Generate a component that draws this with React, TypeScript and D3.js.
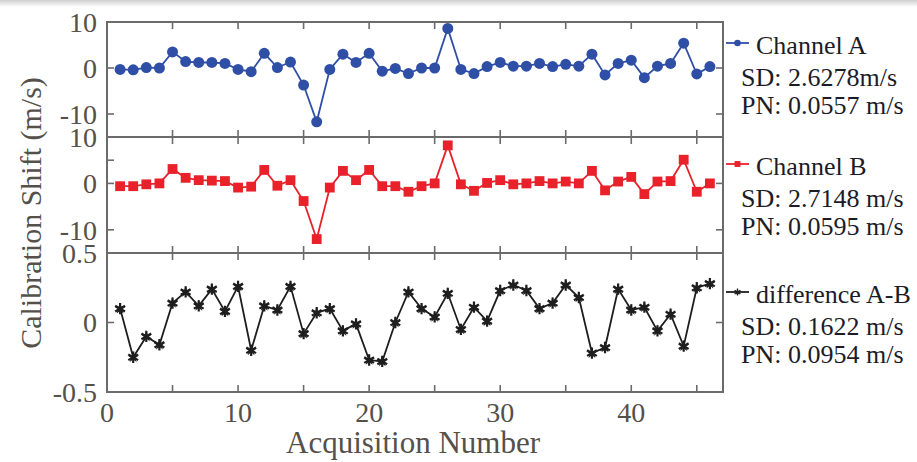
import React from "react";
import * as d3 from "d3";

const acq = d3.range(1, 47);
const channelA = [-0.3, -0.4, 0.1, 0, 3.5, 1.4, 1.2, 1.2, 1.0, -0.3, -0.8, 3.2, 0.1, 1.3, -3.7, -11.7, -0.3, 3.0, 1.2, 3.2, -0.7, -0.1, -1.2, 0, 0, 8.6, -0.3, -1.2, 0.3, 1.2, 0.4, 0.4, 1.0, 0.3, 0.8, 0.4, 3.0, -1.5, 1.0, 1.7, -2.1, 0.4, 1.0, 5.4, -1.3, 0.3];
const channelB = [-0.6, -0.6, -0.2, 0, 3.1, 1.2, 0.7, 0.6, 0.5, -0.9, -0.7, 2.9, -0.5, 0.7, -3.8, -12.0, -0.9, 2.7, 0.7, 2.9, -0.6, -0.6, -1.8, -0.6, 0, 8.2, -0.2, -1.6, 0.1, 0.7, -0.2, 0, 0.5, 0, 0.4, 0, 2.7, -1.5, 0.4, 1.4, -2.3, 0.4, 0.5, 5.1, -1.8, 0];
const diffAB = [0.10, -0.25, -0.10, -0.16, 0.14, 0.22, 0.12, 0.24, 0.08, 0.26, -0.20, 0.12, 0.09, 0.26, -0.08, 0.07, 0.10, -0.06, -0.01, -0.27, -0.28, 0.0, 0.22, 0.10, 0.04, 0.21, -0.05, 0.11, 0.01, 0.23, 0.27, 0.23, 0.10, 0.14, 0.27, 0.18, -0.22, -0.18, 0.24, 0.09, 0.11, -0.06, 0.06, -0.17, 0.25, 0.28];

const xTickValues = [5, 10, 15, 20, 25, 30, 35, 40, 45];
const xTickLabels = ["0", "10", "20", "30", "40"];
const chTickLabels = ["10", "0", "-10"];
const diffTickLabels = ["0.5", "0", "-0.5"];
const legendA = ["Channel A", "SD: 2.6278m/s", "PN: 0.0557 m/s"];
const legendB = ["Channel B", "SD: 2.7148 m/s", "PN: 0.0595 m/s"];
const legendD = ["difference A-B", "SD: 0.1622 m/s", "PN: 0.0954 m/s"];

const W = 917, H = 462;
const L = 107, R = 723;
const frameColor = "#6b6b6b";
const labelColor = "#55504a";
const textColor = "#1c1c28";

const x = d3.scaleLinear().domain([0, 47]).range([L, R]);

type Panel = {
  data: number[];
  domain: [number, number];
  top: number;
  bottom: number;
  color: string;
  marker: "circle" | "square" | "star";
  leftTicks: number[];
  rightTicks: number[];
  labelVals: number[];
  labels: string[];
  legend: string[];
  legendY: number;
};

const panels: Panel[] = [
  { data: channelA, domain: [-15, 10], top: 22, bottom: 137, color: "#2f4fa6", marker: "circle", leftTicks: [0, -10], rightTicks: [0, -10], labelVals: [10, 0, -10], labels: chTickLabels, legend: legendA, legendY: 43 },
  { data: channelB, domain: [-15, 10], top: 137, bottom: 253, color: "#e8212b", marker: "square", leftTicks: [5, 0, -10], rightTicks: [0, -10], labelVals: [10, 0, -10], labels: chTickLabels, legend: legendB, legendY: 164 },
  { data: diffAB, domain: [-0.5, 0.5], top: 253, bottom: 392, color: "#1e1e1e", marker: "star", leftTicks: [0], rightTicks: [0], labelVals: [0.5, 0, -0.5], labels: diffTickLabels, legend: legendD, legendY: 292 },
];

function Marker({ kind, cx, cy, color, s }: { kind: string; cx: number; cy: number; color: string; s: number }) {
  if (kind === "circle") return <circle cx={cx} cy={cy} r={5.5 * s} fill={color} />;
  if (kind === "square") return <rect x={cx - 4.9 * s} y={cy - 4.9 * s} width={9.8 * s} height={9.8 * s} fill={color} />;
  const p = d3.symbol().type(d3.symbolAsterisk).size(90 * s * s)();
  const q = d3.symbol().type(d3.symbolStar).size(40 * s * s)();
  return (
    <g transform={`translate(${cx},${cy})`}>
      <path d={p || ""} stroke={color} strokeWidth={2.2 * s} fill="none" />
      <path d={q || ""} fill={color} />
    </g>
  );
}

function T(props: any) {
  const { children, ...rest } = props;
  return (
    <text {...rest} fontFamily="Liberation Serif" style={{ fontFamily: "'Liberation Serif'" }}>
      {children}
    </text>
  );
}

export default function App() {
  return (
    <svg width={W} height={H} style={{ display: "block", position: "absolute", left: 0, top: 0, background: "#fff" }}>
      <defs>
        <linearGradient id="topShade" x1="0" y1="0" x2="0" y2="1">
          <stop offset="0" stopColor="#cfcfcf" />
          <stop offset="1" stopColor="#ffffff" />
        </linearGradient>
      </defs>
      <rect x={0} y={0} width={W} height={H} fill="#fff" />
      <rect x={0} y={0} width={W} height={7} fill="url(#topShade)" />
      {panels.map((p, i) => {
        const y = d3.scaleLinear().domain(p.domain).range([p.bottom, p.top]);
        const line = d3.line<number>().x((_, k) => x(acq[k])).y((d) => y(d));
        return (
          <g key={i}>
            {xTickValues.map((t) => (
              <g key={t}>
                <line x1={x(t)} x2={x(t)} y1={p.top} y2={p.top + 7} stroke={frameColor} strokeWidth={1.6} />
                <line x1={x(t)} x2={x(t)} y1={p.bottom} y2={p.bottom - 7} stroke={frameColor} strokeWidth={1.6} />
              </g>
            ))}
            {p.leftTicks.map((t) => (
              <line key={"l" + t} x1={L} x2={L + 7} y1={y(t)} y2={y(t)} stroke={frameColor} strokeWidth={1.6} />
            ))}
            {p.rightTicks.map((t) => (
              <line key={"r" + t} x1={R} x2={R - 7} y1={y(t)} y2={y(t)} stroke={frameColor} strokeWidth={1.6} />
            ))}
            <rect x={L} y={p.top} width={R - L} height={p.bottom - p.top} fill="none" stroke={frameColor} strokeWidth={2} />
            {p.labelVals.map((v, k) => (
              <T key={k} x={97} y={y(v)} dy="0.35em" textAnchor="end" fontSize={28} fill={labelColor}>
                {p.labels[k]}
              </T>
            ))}
            <path d={line(p.data) || ""} fill="none" stroke={p.color} strokeWidth={1.8} />
            {p.data.map((d, k) => (
              <Marker key={k} kind={p.marker} cx={x(acq[k])} cy={y(d)} color={p.color} s={1} />
            ))}
            <line x1={726} x2={749} y1={p.legendY} y2={p.legendY} stroke={p.color} strokeWidth={1.8} />
            <Marker kind={p.marker} cx={737.5} cy={p.legendY} color={p.color} s={0.6} />
            <T x={756} y={p.legendY + 6} dy="0.2em" fontSize={26} fill={textColor}>{p.legend[0]}</T>
            <T x={741} y={p.legendY + 43} fontSize={26} fill={textColor}>{p.legend[1]}</T>
            <T x={741} y={p.legendY + 71} fontSize={26} fill={textColor}>{p.legend[2]}</T>
          </g>
        );
      })}
      {xTickLabels.map((t) => (
        <T key={t} x={x(+t)} y={422} textAnchor="middle" fontSize={28} fill={labelColor}>{t}</T>
      ))}
      <T x={(L + R) / 2 - 2} y={453} textAnchor="middle" fontSize={31} fill={labelColor}>Acquisition Number</T>
      <T transform={`translate(41,213) rotate(-90)`} textAnchor="middle" fontSize={30} fill={labelColor}>Calibration Shift (m/s)</T>
    </svg>
  );
}
